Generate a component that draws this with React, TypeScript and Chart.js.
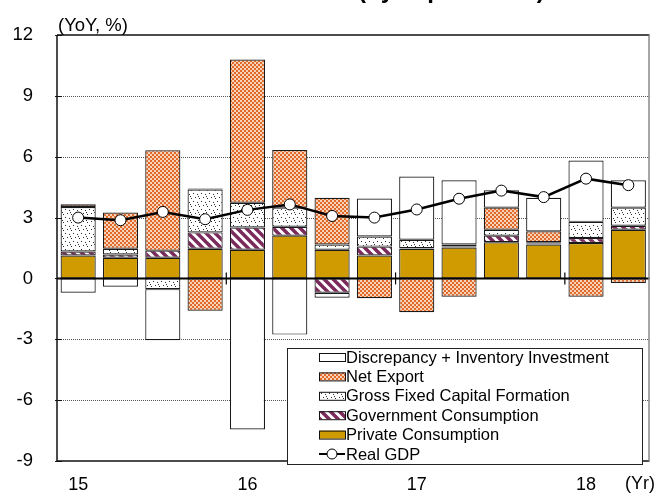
import React, { useEffect, useRef } from 'react';
import { Chart, registerables } from 'chart.js';

Chart.register(...registerables);

const quarters = ['15Q1', '15Q2', '15Q3', '15Q4', '16Q1', '16Q2', '16Q3', '16Q4', '17Q1', '17Q2', '17Q3', '17Q4', '18Q1', '18Q2'];
const yearTickLabels = ['15', '', '', '', '16', '', '', '', '17', '', '', '', '18', ''];
const yearBoundaries = [3.5, 7.5, 11.5];
const privateConsumption = [1.13, 1.02, 1.02, 1.46, 1.41, 2.11, 1.41, 1.13, 1.46, 1.52, 1.78, 1.67, 1.75, 2.40];
const governmentConsumption = [0.20, 0.16, 0.35, 0.81, 1.10, 0.44, -0.71, 0.44, 0.03, 0.06, 0.33, 0.05, 0.24, 0.20];
const grossFixedCapitalFormation = [2.19, 0.28, -0.53, 2.11, 1.22, 0.94, 0.26, 0.50, 0.42, 0.09, 0.29, 0.06, 0.80, 0.89];
const netExport = [0.14, 1.79, 4.95, -1.59, 7.07, 2.84, 2.31, -0.98, -1.67, -0.90, 1.09, 0.54, -0.90, -0.22];
const discrepancyInventory = [-0.71, -0.41, -2.52, 0.06, -7.45, -2.77, -0.24, 1.87, 3.12, 3.17, 0.86, 1.66, 3.02, 1.35];
const realGDP = [3.0, 2.87, 3.28, 2.92, 3.38, 3.65, 3.08, 3.0, 3.40, 3.93, 4.33, 4.01, 4.92, 4.60];
const gridValues = [-6, -3, 3, 6, 9];
const yTickValues = [-9, -6, -3, 0, 3, 6, 9, 12];

const FONT = 'Arial, "Liberation Sans", Helvetica, sans-serif';

function makeTile(w: number, h: number, draw: (c: CanvasRenderingContext2D) => void) {
  const cv = document.createElement('canvas');
  cv.width = w;
  cv.height = h;
  const c = cv.getContext('2d') as CanvasRenderingContext2D;
  draw(c);
  return (document.createElement('canvas').getContext('2d') as CanvasRenderingContext2D).createPattern(cv, 'repeat') as CanvasPattern;
}

function makePatterns() {
  const checker = makeTile(4, 4, (c) => {
    c.fillStyle = '#DF6A2B';
    c.fillRect(0, 0, 4, 4);
    c.fillStyle = '#F8D3B8';
    c.fillRect(0, 0, 2, 2);
    c.fillRect(2, 2, 2, 2);
  });
  const stipple = makeTile(8, 8, (c) => {
    c.fillStyle = '#ffffff';
    c.fillRect(0, 0, 8, 8);
    c.fillStyle = '#2a2a2a';
    c.fillRect(1, 1, 1, 1);
    c.fillRect(5, 2, 1, 1);
    c.fillRect(3, 5, 1, 1);
    c.fillRect(7, 6, 1, 1);
    c.fillRect(6, 4, 1, 1);
  });
  const stripes = makeTile(9, 9, (c) => {
    c.fillStyle = '#ffffff';
    c.fillRect(0, 0, 9, 9);
    c.strokeStyle = '#7A2B5C';
    c.lineWidth = 3.5;
    for (let k = -1; k <= 1; k++) {
      c.beginPath();
      c.moveTo(-2 + k * 9, -2);
      c.lineTo(11 + k * 9, 11);
      c.stroke();
    }
  });
  return { checker, stipple, stripes };
}

const decorPlugin = {
  id: 'decor',
  beforeDatasetsDraw(chart: any) {
    const { ctx, chartArea: a, scales } = chart;
    const y = scales.y;
    ctx.save();
    ctx.strokeStyle = '#555555';
    ctx.lineWidth = 1;
    ctx.setLineDash([1, 1]);
    for (const v of gridValues) {
      const py = Math.round(y.getPixelForValue(v)) + 0.5;
      ctx.beginPath();
      ctx.moveTo(a.left, py);
      ctx.lineTo(a.right, py);
      ctx.stroke();
    }
    ctx.restore();
  },
  afterDatasetsDraw(chart: any) {
    const { ctx, chartArea: a, scales } = chart;
    const y = scales.y;
    const x = scales.x;
    ctx.save();
    const zy = y.getPixelForValue(0);
    ctx.strokeStyle = '#000000';
    ctx.lineWidth = 2;
    ctx.beginPath();
    ctx.moveTo(a.left, zy);
    ctx.lineTo(a.right, zy);
    ctx.stroke();
    ctx.lineWidth = 1.2;
    for (const b of yearBoundaries) {
      const px = (x.getPixelForValue(Math.floor(b)) + x.getPixelForValue(Math.ceil(b))) / 2;
      ctx.beginPath();
      ctx.moveTo(px, zy - 6);
      ctx.lineTo(px, zy + 6);
      ctx.stroke();
    }
    ctx.lineWidth = 1.5;
    ctx.strokeStyle = '#111111';
    ctx.beginPath();
    ctx.moveTo(a.left, a.top);
    ctx.lineTo(a.right, a.top);
    ctx.moveTo(a.left, a.top);
    ctx.lineTo(a.left, a.bottom);
    ctx.lineTo(a.right, a.bottom);
    ctx.stroke();
    ctx.strokeStyle = '#888888';
    ctx.beginPath();
    ctx.moveTo(a.right - 0.5, a.top);
    ctx.lineTo(a.right - 0.5, a.bottom);
    ctx.stroke();
    ctx.strokeStyle = '#111111';
    ctx.lineWidth = 1;
    for (const v of yTickValues) {
      const py = Math.round(y.getPixelForValue(v)) + 0.5;
      ctx.beginPath();
      ctx.moveTo(a.left - 2, py);
      ctx.lineTo(a.left + 5, py);
      ctx.stroke();
    }
    ctx.restore();
  },
  afterDraw(chart: any) {
    const { ctx } = chart;
    ctx.save();
    ctx.fillStyle = '#000000';
    ctx.textAlign = 'left';
    ctx.textBaseline = 'alphabetic';
    ctx.font = `18.5px ${FONT}`;
    ctx.fillText('(YoY, %)', 58, 31);
    ctx.font = `18px ${FONT}`;
    ctx.fillText('(Yr)', 625, 489);
    ctx.font = `bold 24px ${FONT}`;
    ctx.fillText('(by expenditure)', 358, -2);

    const lx = 287, ly = 348, lw = 355, lh = 116;
    ctx.fillStyle = '#ffffff';
    ctx.fillRect(lx, ly, lw, lh);
    ctx.strokeStyle = '#222222';
    ctx.lineWidth = 1;
    ctx.strokeRect(lx + 0.5, ly + 0.5, lw, lh);
    const ds = chart.data.datasets;
    const order = [4, 3, 2, 1, 0, 5];
    const rowY = [357, 376.4, 395.8, 415.2, 434.6, 454];
    order.forEach((di: number, r: number) => {
      const d = ds[di];
      const cy = rowY[r];
      if (d.type === 'line') {
        ctx.strokeStyle = '#000000';
        ctx.lineWidth = 2;
        ctx.beginPath();
        ctx.moveTo(319, cy);
        ctx.lineTo(345, cy);
        ctx.stroke();
        ctx.beginPath();
        ctx.arc(332, cy, 5, 0, Math.PI * 2);
        ctx.fillStyle = '#ffffff';
        ctx.fill();
        ctx.lineWidth = 1;
        ctx.stroke();
      } else {
        ctx.fillStyle = d.backgroundColor;
        ctx.fillRect(319, cy - 4, 26, 8);
        ctx.strokeStyle = '#111111';
        ctx.lineWidth = 1;
        ctx.strokeRect(319.5, cy - 3.5, 26, 8);
      }
      ctx.fillStyle = '#000000';
      ctx.font = `16.5px ${FONT}`;
      ctx.textBaseline = 'middle';
      ctx.fillText(d.label, 346, cy + 1);
    });
    ctx.restore();
  },
};

export default function App() {
  const ref = useRef<HTMLCanvasElement | null>(null);
  useEffect(() => {
    document.body.style.margin = '0';
    const canvas = ref.current;
    if (!canvas) return;
    const p = makePatterns();
    const barCommon = {
      type: 'bar' as const,
      borderColor: '#1a1a1a',
      borderWidth: 1.2,
      borderSkipped: false,
      stack: 'contrib',
      order: 2,
      categoryPercentage: 1,
      barPercentage: 0.83,
    };
    const chart = new Chart(canvas, {
      type: 'bar',
      data: {
        labels: quarters,
        datasets: [
          { ...barCommon, label: 'Private Consumption', data: privateConsumption, backgroundColor: '#D09B00' },
          { ...barCommon, label: 'Government Consumption', data: governmentConsumption, backgroundColor: p.stripes },
          { ...barCommon, label: 'Gross Fixed Capital Formation', data: grossFixedCapitalFormation, backgroundColor: p.stipple },
          { ...barCommon, label: 'Net Export', data: netExport, backgroundColor: p.checker },
          { ...barCommon, label: 'Discrepancy + Inventory Investment', data: discrepancyInventory, backgroundColor: '#ffffff' },
          {
            type: 'line' as const,
            label: 'Real GDP',
            data: realGDP,
            stack: 'gdp',
            order: 1,
            borderColor: '#000000',
            borderWidth: 2.5,
            pointRadius: 5.5,
            pointBackgroundColor: '#ffffff',
            pointBorderColor: '#000000',
            pointBorderWidth: 1,
            tension: 0,
          },
        ] as any,
      },
      options: {
        animation: false,
        responsive: false,
        maintainAspectRatio: false,
        layout: { padding: { top: 35, left: 0, right: 2, bottom: 0 } },
        plugins: { legend: { display: false }, tooltip: { enabled: false }, title: { display: false } },
        scales: {
          x: {
            stacked: true,
            grid: { display: false, drawTicks: false },
            border: { display: false },
            ticks: {
              autoSkip: false,
              maxRotation: 0,
              minRotation: 0,
              padding: 13,
              color: '#000000',
              font: { family: FONT, size: 18 },
              callback: (_v: any, i: number) => yearTickLabels[i],
            },
            afterFit: (s: any) => { s.height = 30; },
          },
          y: {
            stacked: true,
            min: -9,
            max: 12,
            grid: { display: false, drawTicks: false },
            border: { display: false },
            ticks: { stepSize: 3, padding: 24, color: '#000000', font: { family: FONT, size: 18.5 } },
            afterFit: (s: any) => { s.width = 57; },
          },
        },
      } as any,
      plugins: [decorPlugin],
    });
    return () => chart.destroy();
  }, []);
  return (
    <div style={{ width: 656, height: 496, position: 'relative' }}>
      <canvas ref={ref} width={656} height={496} style={{ display: 'block', width: 656, height: 496 }} />
    </div>
  );
}
